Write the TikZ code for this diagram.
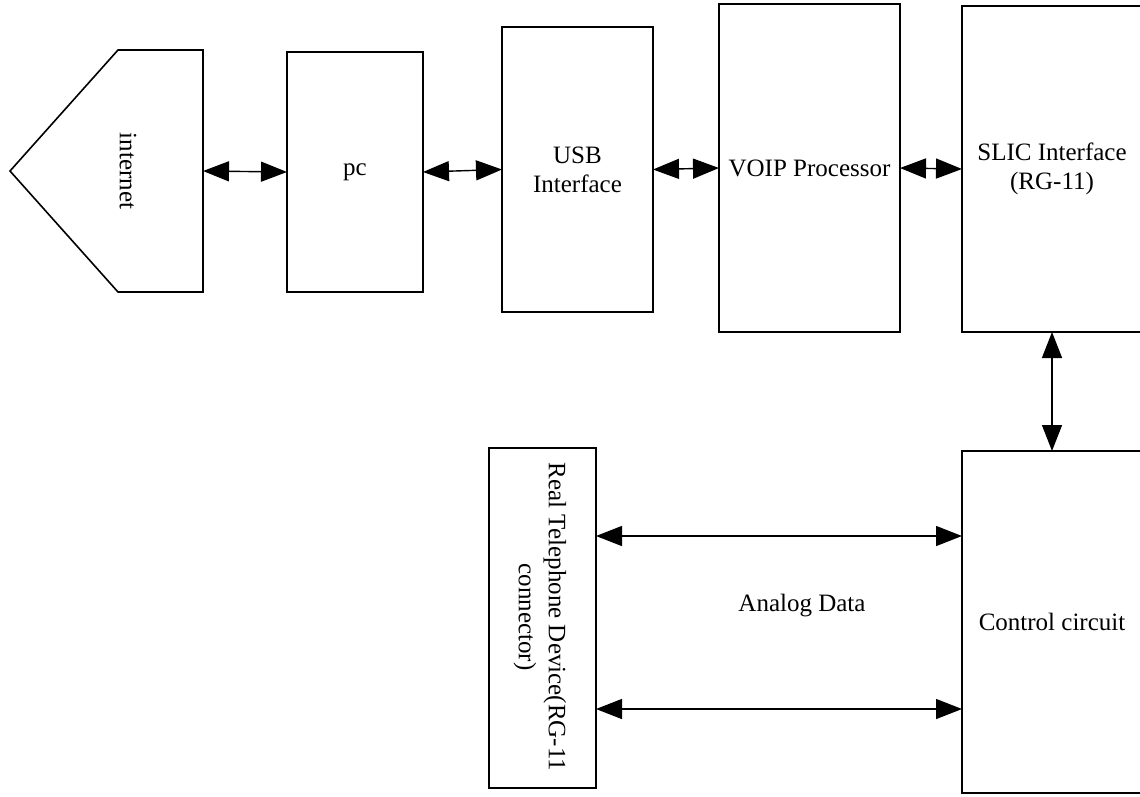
\documentclass[tikz,border=0pt]{standalone}
\usepackage{fontspec}
\setmainfont{Liberation Serif}
\usetikzlibrary{arrows.meta}
\begin{document}
\begin{tikzpicture}[x=1pt,y=-1pt,
  blk/.style={draw, line width=1.6pt, inner sep=0pt, outer sep=0pt, align=center,
    font=\fontsize{25}{29}\selectfont},
  lbl/.style={inner sep=0pt, align=center, font=\fontsize{25}{30}\selectfont},
  link/.style={line width=1.4pt, {Triangle[length=26pt,width=20pt]}-{Triangle[length=26pt,width=20pt]}}]
\clip (0,0) rectangle (1140,796);
\fill[white] (0,0) rectangle (1140,796);
% internet shape
\draw[line width=1.6pt, line join=miter] (10,171) -- (118,50) -- (203,50) -- (203,292) -- (118,292) -- cycle;
\coordinate (inetR) at (203,171);
\node[lbl, rotate=-90] (inet) at (128,171) {internet};
% boxes
\node[blk, minimum width=136pt, minimum height=240pt] (pc) at (355,172) {pc};
\node[blk, minimum width=151pt, minimum height=285pt] (usb) at (577.5,169.5) {USB\\Interface};
\node[blk, minimum width=181pt, minimum height=328pt] (voip) at (809.5,168) {VOIP Processor};
\node[blk, minimum width=180pt, minimum height=326pt] (slic) at (1052,169) {SLIC Interface\\(RG-11)};
\node[blk, minimum width=180pt, minimum height=342pt] (ctrl) at (1052,622) {Control circuit};
\node[blk, minimum width=107pt, minimum height=340pt] (real) at (542.5,618) {};
\node[lbl, rotate=-90] (realtxt) at (540,617) {Real Telephone Device(RG-11\\connector)};
\node[lbl] (analog) at (802,606) {Analog Data};
% connectors
\draw[link] (inetR) -- (pc.west);
\draw[link] (pc.east) -- (usb.west);
\draw[link] (usb.east) -- (voip.west);
\draw[link] (voip.east) -- (slic.west);
\draw[link] (slic.south) -- (ctrl.north);
\draw[link] (real.east |- 0,536) -- (ctrl.west |- 0,536);
\draw[link] (real.east |- 0,709) -- (ctrl.west |- 0,709);
\end{tikzpicture}
\end{document}
